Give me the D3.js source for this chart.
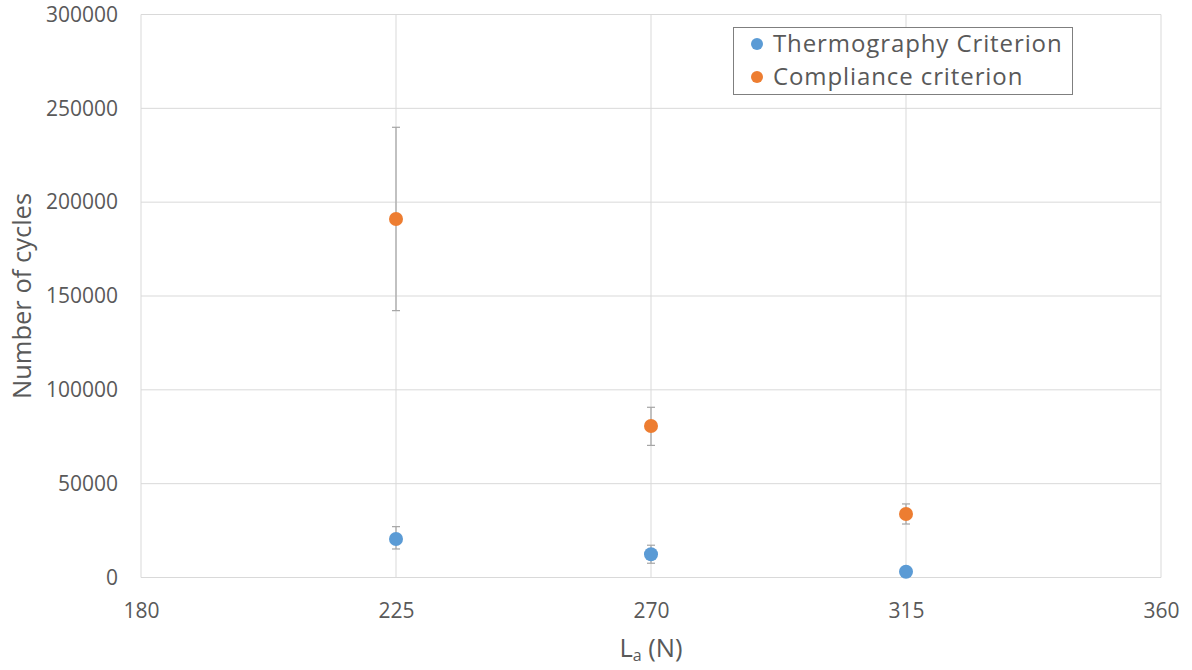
<!DOCTYPE html>
<html>
<head>
<meta charset="utf-8">
<script src="https://cdn.jsdelivr.net/npm/d3@7"></script>
<style>
  html, body { margin: 0; padding: 0; background: #fff; }
  svg { display: block; font-family: "Open Sans", "Noto Sans", sans-serif; }
</style>
</head>
<body>
<svg id="chart" width="1192" height="670"></svg>
<script>
// Load amplitude (N) for each test level
const loads = [225, 270, 315];

// Mean number of cycles and error-bar bounds, thermography criterion
const thermoMean = [20500, 12400, 3100];
const thermoLow  = [15200, 7600, 2600];
const thermoHigh = [27100, 17200, 3600];

// Mean number of cycles and error-bar bounds, compliance criterion
const complMean = [191000, 80700, 33800];
const complLow  = [142200, 70400, 28500];
const complHigh = [239900, 90700, 39200];

const xTicks = [180, 225, 270, 315, 360];
const yTicks = [0, 50000, 100000, 150000, 200000, 250000, 300000];

const seriesNames = ["Thermography Criterion", "Compliance criterion"];
const seriesColors = ["#5B9BD5", "#ED7D31"];

const svg = d3.select("#chart");
const plot = { left: 141, right: 1161, top: 14.5, bottom: 577.5 };

const x = d3.scaleLinear().domain([180, 360]).range([plot.left, plot.right]);
const y = d3.scaleLinear().domain([0, 300000]).range([plot.bottom, plot.top]);

const textColor = "#595959";
const gridColor = "#D9D9D9";

// Gridlines
svg.append("g")
  .selectAll("line.h")
  .data(yTicks)
  .join("line")
  .attr("x1", plot.left).attr("x2", plot.right)
  .attr("y1", d => y(d)).attr("y2", d => y(d))
  .attr("stroke", gridColor).attr("stroke-width", 1);

svg.append("g")
  .selectAll("line.v")
  .data(xTicks)
  .join("line")
  .attr("x1", d => x(d)).attr("x2", d => x(d))
  .attr("y1", plot.top).attr("y2", plot.bottom)
  .attr("stroke", gridColor).attr("stroke-width", 1);

// Y axis labels
const yAxis = d3.axisLeft(y).tickValues(yTicks).tickSize(0).tickPadding(23).tickFormat(d3.format("d"));
const gy = svg.append("g").attr("transform", `translate(${plot.left},0)`).call(yAxis);
gy.select(".domain").remove();
gy.selectAll("text").attr("fill", textColor).style("font-size", "21px").style("font-family", "'Open Sans', sans-serif");

// X axis labels
const xAxis = d3.axisBottom(x).tickValues(xTicks).tickSize(0).tickPadding(26).tickFormat(d3.format("d"));
const gx = svg.append("g").attr("transform", `translate(0,${plot.bottom})`).call(xAxis);
gx.select(".domain").remove();
gx.selectAll("text").attr("fill", textColor).style("font-size", "21px").style("font-family", "'Open Sans', sans-serif");

// Axis titles
svg.append("text")
  .attr("transform", `translate(31,${(plot.top + plot.bottom) / 2}) rotate(-90)`)
  .attr("text-anchor", "middle")
  .attr("fill", textColor)
  .style("font-size", "25.5px")
  .text("Number of cycles");

const xt = svg.append("text")
  .attr("x", (plot.left + plot.right) / 2)
  .attr("y", 657)
  .attr("text-anchor", "middle")
  .attr("fill", textColor)
  .style("font-size", "25.5px");
xt.append("tspan").text("L");
xt.append("tspan").attr("dy", 4).style("font-size", "16px").text("a");
xt.append("tspan").attr("dy", -4).text(" (N)");

// Error bars and markers
const series = [
  { mean: thermoMean, low: thermoLow, high: thermoHigh, color: seriesColors[0] },
  { mean: complMean, low: complLow, high: complHigh, color: seriesColors[1] }
];

const errColor = "#A5A5A5";
const cap = 4;

series.forEach(s => {
  const pts = loads.map((l, i) => ({ l, m: s.mean[i], lo: s.low[i], hi: s.high[i] }));
  const g = svg.append("g");
  g.selectAll("line.stem").data(pts).join("line")
    .attr("x1", d => x(d.l)).attr("x2", d => x(d.l))
    .attr("y1", d => y(d.lo)).attr("y2", d => y(d.hi))
    .attr("stroke", errColor).attr("stroke-width", 1.2);
  g.selectAll("line.capHi").data(pts).join("line")
    .attr("x1", d => x(d.l) - cap).attr("x2", d => x(d.l) + cap)
    .attr("y1", d => y(d.hi)).attr("y2", d => y(d.hi))
    .attr("stroke", errColor).attr("stroke-width", 1.2);
  g.selectAll("line.capLo").data(pts).join("line")
    .attr("x1", d => x(d.l) - cap).attr("x2", d => x(d.l) + cap)
    .attr("y1", d => y(d.lo)).attr("y2", d => y(d.lo))
    .attr("stroke", errColor).attr("stroke-width", 1.2);
  g.selectAll("circle").data(pts).join("circle")
    .attr("cx", d => x(d.l)).attr("cy", d => y(d.m))
    .attr("r", 7).attr("fill", s.color);
});

// Legend
const legend = svg.append("g").attr("transform", "translate(733,27)");
legend.append("rect")
  .attr("x", 0.5).attr("y", 0.5).attr("width", 339).attr("height", 67)
  .attr("fill", "#fff").attr("stroke", "#7F7F7F").attr("stroke-width", 1);
seriesNames.forEach((name, i) => {
  const row = legend.append("g").attr("transform", `translate(0,${17 + i * 33})`);
  row.append("circle").attr("cx", 24).attr("cy", 0).attr("r", 6).attr("fill", seriesColors[i]);
  row.append("text").attr("x", 40).attr("y", 0).attr("dy", "0.35em")
    .attr("fill", textColor).style("font-size", "24px").style("letter-spacing", "0.9px").text(name);
});
</script>
</body>
</html>
